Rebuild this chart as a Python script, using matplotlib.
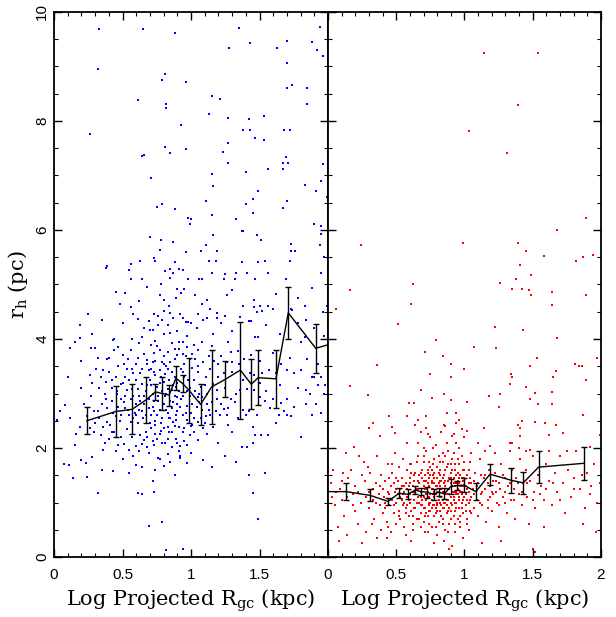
import numpy as np
import matplotlib
matplotlib.use("Agg")
import matplotlib.pyplot as plt
from matplotlib.ticker import MultipleLocator

plt.rcParams['font.family'] = ['Liberation Sans', 'DejaVu Sans']
plt.rcParams['mathtext.fontset'] = 'custom'
plt.rcParams['mathtext.rm'] = 'DejaVu Serif'

# binned means with error bars (log R_gc, r_h, error)
left_bin_x = [0.24, 0.45, 0.57, 0.67, 0.74, 0.79, 0.84, 0.89, 0.94, 0.985, 1.07, 1.15,
              1.25, 1.36, 1.44, 1.49, 1.62, 1.71, 1.91, 2.08]
left_bin_y = [2.50, 2.67, 2.71, 2.88, 3.03, 3.00, 2.97, 3.28, 3.18, 3.06, 2.80, 3.12,
              3.26, 3.43, 3.17, 3.29, 3.27, 4.48, 3.83, 3.95]
left_bin_err = [0.25, 0.47, 0.46, 0.42, 0.14, 0.30, 0.19, 0.22, 0.16, 0.60, 0.38, 0.68,
                0.33, 0.89, 0.46, 0.50, 0.53, 0.48, 0.45, 0.45]

right_bin_x = [-0.05, 0.134, 0.31, 0.44, 0.52, 0.584, 0.64, 0.68, 0.725, 0.774, 0.81, 0.852,
               0.898, 0.944, 0.993, 1.083, 1.187, 1.34, 1.43, 1.543, 1.878]
right_bin_y = [1.20, 1.20, 1.13, 1.02, 1.17, 1.15, 1.23, 1.20, 1.19, 1.15, 1.19, 1.16,
               1.29, 1.31, 1.32, 1.20, 1.52, 1.41, 1.36, 1.65, 1.72]
right_bin_err = [0.10, 0.15, 0.11, 0.07, 0.09, 0.09, 0.08, 0.07, 0.10, 0.10, 0.07, 0.10,
                 0.14, 0.08, 0.13, 0.15, 0.19, 0.23, 0.20, 0.29, 0.30]

left_tick_labels = ['0', '0.5', '1', '1.5']
right_tick_labels = ['0', '0.5', '1', '1.5', '2']
y_tick_labels = ['0', '2', '4', '6', '8', '10']

# individual clusters, left panel (blue)
blue_pts = [
    (0.33, 9.68), (0.65, 9.68), (0.88, 9.61), (1.35, 9.71), (1.94, 9.73), (1.43, 9.43), (1.70, 9.47),
    (1.28, 9.33), (1.63, 9.33), (1.88, 9.44), (1.92, 9.30), (1.96, 9.19), (0.32, 8.96), (1.70, 9.06),
    (0.79, 8.76), (0.81, 8.87), (0.96, 8.71), (1.74, 8.66), (1.70, 8.61), (1.85, 8.61), (0.61, 8.38),
    (1.15, 8.45), (1.21, 8.41), (0.82, 8.32), (0.82, 8.23), (1.13, 8.13), (1.27, 8.06), (1.42, 8.04),
    (1.53, 8.10), (1.85, 8.32), (0.26, 7.77), (1.38, 7.83), (1.43, 7.83), (1.47, 7.69), (1.53, 7.66),
    (1.68, 7.83), (1.72, 7.83), (0.93, 7.92), (1.27, 7.60), (1.23, 7.44), (0.96, 7.48), (0.85, 7.41),
    (0.64, 7.36), (0.66, 7.37), (0.81, 7.52), (1.69, 7.34), (1.67, 7.22), (1.71, 7.22), (1.27, 7.22),
    (1.40, 7.07), (1.56, 7.11), (1.96, 7.21), (1.15, 7.03), (0.71, 6.96), (1.67, 7.11), (1.16, 6.80),
    (1.49, 6.71), (1.83, 6.83), (1.91, 6.71), (1.95, 6.89), (1.99, 6.60), (0.79, 6.48), (0.75, 6.43),
    (0.88, 6.39), (1.11, 6.53), (1.40, 6.48), (1.45, 6.57), (1.45, 6.32), (0.98, 6.22), (1.00, 6.21),
    (0.99, 6.11), (1.15, 6.27), (1.33, 6.21), (1.37, 5.99), (1.38, 5.99), (1.48, 5.90), (1.51, 5.82),
    (1.90, 6.11), (1.95, 6.08), (1.95, 5.92), (1.67, 6.40), (1.70, 6.53), (0.70, 5.87), (0.78, 5.82),
    (0.87, 5.78), (1.07, 5.61), (1.11, 5.73), (1.19, 5.61), (0.96, 5.59), (1.16, 5.91), (1.94, 5.73),
    (1.97, 5.51), (0.38, 5.31), (0.39, 5.34), (0.56, 5.38), (0.55, 5.27), (0.63, 5.43), (0.73, 5.48),
    (0.74, 5.43), (0.77, 5.64), (0.85, 5.29), (0.81, 5.25), (0.88, 5.41), (0.91, 5.29), (0.94, 5.27),
    (1.13, 5.43), (1.18, 5.43), (1.37, 5.42), (1.49, 5.42), (1.54, 5.43), (1.72, 5.43), (1.73, 5.61),
    (1.76, 5.61), (1.73, 5.75), (1.06, 5.11), (1.08, 5.11), (0.98, 5.11), (1.15, 5.21), (1.25, 5.19),
    (1.24, 5.11), (1.33, 5.21), (1.32, 5.11), (1.41, 5.21), (1.47, 5.11), (1.56, 5.21), (1.69, 5.10),
    (1.95, 5.21), (0.56, 5.10), (0.64, 5.10), (0.78, 5.00), (0.85, 5.12), (0.87, 5.22),
    (0.52, 4.84), (0.45, 4.87), (0.56, 4.59), (0.61, 4.36), (0.77, 4.81), (0.80, 4.71), (0.89, 4.76),
    (0.95, 4.92), (0.90, 4.92), (1.03, 4.81), (1.12, 4.71), (1.26, 4.81), (1.12, 4.39), (1.19, 4.39),
    (1.25, 4.43), (1.19, 4.48), (1.05, 4.45), (1.46, 4.71), (1.50, 4.61), (1.46, 4.58), (1.56, 4.60),
    (1.52, 4.51), (1.48, 4.49), (1.42, 4.33), (1.44, 4.33), (1.47, 4.04), (1.49, 4.04), (1.62, 4.82),
    (1.83, 4.61), (1.88, 4.94), (1.99, 4.61), (1.96, 4.49), (1.84, 4.34), (1.97, 4.06), (1.83, 4.04),
    (1.74, 4.54), (1.73, 4.55), (0.19, 4.25), (0.19, 4.01), (0.12, 3.83), (0.28, 4.09), (0.30, 3.84),
    (0.27, 3.83), (0.44, 4.00), (0.43, 3.98), (0.57, 4.00), (0.69, 4.33), (0.73, 4.46), (0.76, 4.43),
    (0.70, 4.17), (0.72, 4.17), (0.76, 4.25), (0.80, 4.51), (0.85, 4.48), (0.87, 4.39), (0.92, 4.45),
    (0.94, 4.38), (0.96, 4.32), (0.98, 4.32), (1.00, 4.30), (0.80, 4.10), (0.85, 4.11), (0.91, 3.95),
    (0.94, 3.95), (1.02, 3.89), (0.74, 3.97), (0.71, 3.89), (0.73, 3.75), (0.77, 3.79), (0.80, 3.69),
    (0.83, 3.77), (0.88, 3.82), (0.91, 3.82), (0.94, 3.73), (0.96, 3.69), (0.99, 3.63), (1.01, 3.73),
    (1.03, 3.63), (0.66, 3.73), (0.61, 3.66), (0.64, 4.04), (0.54, 3.63), (0.51, 3.55), (0.44, 3.79),
    (0.40, 3.66), (0.39, 3.63), (0.47, 3.50), (0.36, 3.43), (0.34, 3.31), (0.26, 3.34), (0.38, 3.22),
    (0.42, 3.25), (0.49, 3.17), (0.53, 3.06), (0.58, 3.38), (0.63, 3.38), (0.69, 3.44), (0.72, 3.57),
    (0.74, 3.34), (0.77, 3.44), (0.82, 3.50), (0.85, 3.57), (0.88, 3.63), (0.95, 3.54), (1.01, 3.47),
    (1.05, 3.50), (1.09, 3.57), (1.13, 3.69), (1.17, 3.60), (1.22, 3.69), (1.26, 3.57), (1.29, 3.76),
    (1.24, 3.38), (1.30, 3.57), (1.35, 3.54), (1.39, 3.63), (1.43, 3.38), (1.46, 3.34), (1.52, 3.38),
    (1.57, 3.44), (1.62, 3.38), (1.66, 3.54), (1.70, 3.44), (1.75, 3.38), (1.80, 3.44), (1.85, 3.63),
    (1.90, 3.31), (1.95, 3.31), (1.98, 3.15), (1.84, 3.06), (1.87, 2.99), (1.93, 3.15), (1.97, 2.99),
    (1.91, 2.80), (1.84, 2.80), (1.88, 2.61), (1.70, 2.90), (1.66, 2.83), (1.68, 2.68), (1.70, 2.61),
    (1.73, 2.58), (1.64, 2.61), (1.58, 2.74), (1.54, 2.87), (1.50, 2.93), (1.46, 3.06), (1.41, 3.09),
    (1.36, 3.06), (1.33, 2.99), (1.29, 2.90), (1.27, 2.74), (1.22, 2.80), (1.18, 2.68), (1.14, 2.61),
    (1.11, 2.58), (1.07, 2.55), (1.05, 2.48), (1.01, 2.42), (0.97, 2.52), (0.94, 2.61), (0.90, 2.68),
    (0.86, 2.74), (0.83, 2.64), (0.79, 2.55), (0.75, 2.61), (0.73, 2.68), (0.69, 2.74), (0.66, 2.80),
    (0.63, 2.87), (0.60, 2.80), (0.56, 2.90), (0.52, 2.96), (0.49, 2.90), (0.46, 2.99), (0.42, 2.87),
    (0.39, 2.74), (0.35, 2.80), (0.32, 2.68), (0.29, 2.68), (0.24, 2.58), (0.19, 2.39), (0.16, 2.26),
    (0.02, 2.52), (0.08, 2.79), (0.04, 2.68), (0.26, 2.36), (0.29, 2.29), (0.34, 2.23), (0.36, 2.39),
    (0.40, 2.17), (0.44, 2.29), (0.49, 2.20), (0.51, 2.07), (0.55, 1.97), (0.60, 2.04), (0.63, 2.23),
    (0.67, 2.29), (0.71, 2.36), (0.74, 2.42), (0.78, 2.32), (0.83, 2.39), (0.86, 2.29), (0.89, 2.17),
    (0.92, 2.04), (0.91, 1.94), (0.95, 2.13), (0.99, 2.23), (1.02, 2.29), (1.09, 2.36), (1.16, 2.39),
    (1.27, 2.42), (1.34, 2.55), (1.40, 2.61), (1.42, 2.68), (1.45, 2.39), (1.47, 2.23), (1.51, 2.23),
    (1.37, 2.01), (1.41, 2.01), (1.33, 1.75), (1.42, 1.50), (1.45, 1.18), (1.54, 1.54), (1.49, 0.70),
    (1.56, 2.23), (0.07, 1.71), (0.11, 1.69), (0.14, 1.45), (0.20, 1.78), (0.23, 1.72), (0.24, 1.46),
    (0.28, 1.83), (0.32, 1.18), (0.36, 1.96), (0.43, 1.58), (0.58, 1.85), (0.60, 1.69), (0.64, 1.66),
    (0.61, 1.18), (0.64, 1.16), (0.73, 1.20), (0.72, 1.40), (0.76, 1.82), (0.80, 1.67), (0.77, 1.80),
    (0.83, 1.89), (0.86, 2.01), (0.92, 1.85), (0.92, 1.82), (0.97, 1.72), (1.09, 1.78), (0.69, 0.57),
    (0.79, 0.64), (0.82, 0.13), (0.94, 0.14), (1.24, 2.71), (1.21, 2.61), (1.12, 2.80), (1.08, 2.93),
    (1.05, 2.93), (1.01, 2.80), (0.97, 2.77), (0.94, 2.96), (0.90, 2.93), (0.86, 3.06), (0.83, 3.09),
    (0.80, 3.22), (0.75, 3.12), (0.72, 2.99), (0.68, 3.15), (0.64, 3.18), (0.61, 3.09), (0.57, 3.09),
    (0.55, 3.25), (0.85, 2.87), (0.89, 3.12), (1.02, 3.25), (1.11, 3.31), (1.16, 3.18), (1.19, 3.06),
    (1.07, 3.12), (0.80, 2.80), (0.76, 2.87), (0.73, 2.87), (0.71, 2.61), (0.67, 2.61), (0.64, 2.68),
    (0.60, 2.61), (0.58, 2.55), (0.56, 2.48), (0.52, 2.74), (0.49, 2.61), (0.45, 2.58), (0.41, 2.42),
    (0.39, 2.48), (0.83, 2.17), (0.79, 2.10), (0.75, 2.17), (0.72, 2.13), (0.68, 2.01), (0.64, 2.07),
    (0.80, 2.36), (0.87, 2.48), (0.91, 2.39), (0.95, 2.36), (0.85, 2.55), (0.89, 2.52), (0.78, 2.45),
    (0.74, 2.26), (0.68, 2.20), (0.78, 3.30), (0.82, 3.00), (0.86, 3.40), (0.90, 3.20), (0.93, 3.45),
    (0.76, 2.95), (0.70, 3.25), (0.88, 2.95), (0.84, 3.25), (0.80, 3.55), (0.95, 3.30), (0.97, 3.05),
    (0.74, 3.60), (0.66, 2.95), (0.62, 2.70), (0.90, 2.80), (0.82, 2.70), (0.79, 3.05), (0.87, 3.15),
    (0.92, 2.75), (1.00, 2.65), (1.04, 2.75), (1.06, 3.00), (1.08, 2.70), (1.12, 3.00), (1.10, 2.45),
    (1.15, 2.85), (0.99, 3.10), (0.71, 3.45), (0.68, 3.55), (0.60, 3.55), (0.58, 2.95), (0.55, 2.60),
    (0.50, 3.20), (0.47, 2.75), (0.53, 3.45), (0.45, 3.30), (0.42, 3.10), (0.37, 3.00), (0.33, 3.10),
    (0.62, 4.70), (0.68, 4.95), (0.84, 4.60), (0.93, 4.85), (1.08, 4.65), (1.30, 4.90), (1.38, 4.60),
    (1.60, 4.55), (1.78, 4.75), (0.48, 4.65), (0.50, 4.30), (0.58, 4.45), (0.66, 4.20), (0.79, 4.35),
    (0.83, 4.25), (0.90, 4.15), (0.97, 4.05), (1.04, 4.20), (1.09, 4.35), (1.16, 4.10), (1.22, 4.30),
    (1.30, 4.15), (1.36, 4.40), (1.55, 4.25), (1.65, 4.10), (1.78, 4.30), (1.90, 4.20), (0.35, 4.35),
    (0.25, 4.45), (1.14, 4.55), (0.32, 3.65), (0.47, 3.85), (0.50, 3.70), (0.56, 3.80), (0.62, 3.92),
    (0.68, 3.62), (0.75, 3.88), (0.79, 3.58), (0.86, 3.92), (0.90, 3.70), (0.97, 3.85), (1.05, 3.80),
    (1.08, 3.95), (1.15, 3.88), (1.20, 3.55), (1.27, 3.95), (1.34, 3.78), (1.44, 3.70), (1.50, 3.60),
    (1.60, 3.75), (1.72, 3.66), (1.80, 3.95), (1.93, 3.55), (0.20, 3.60), (0.15, 3.95), (0.20, 3.10),
    (0.28, 3.20), (0.31, 3.45), (0.40, 3.40), (0.46, 3.05), (0.52, 3.30), (0.57, 3.45), (0.60, 3.25),
    (0.64, 3.45), (0.67, 3.05), (0.71, 3.15), (0.73, 3.40), (0.77, 3.20), (0.81, 3.35), (0.83, 3.45),
    (0.88, 3.30), (0.91, 3.05), (0.94, 3.40), (0.98, 3.25), (1.03, 3.05), (1.05, 3.40), (1.10, 3.15),
    (1.14, 3.45), (1.20, 3.30), (1.25, 3.10), (1.30, 3.40), (1.38, 3.25), (1.50, 3.20), (1.55, 3.05),
    (1.65, 3.15), (1.78, 3.10), (1.88, 3.30), (0.10, 3.30), (0.12, 2.55), (0.22, 2.80), (0.27, 2.95),
    (0.33, 2.55), (0.38, 2.90), (0.43, 2.65), (0.48, 2.50), (0.51, 2.85), (0.54, 2.70), (0.59, 2.65),
    (0.62, 2.95), (0.65, 2.55), (0.69, 2.90), (0.72, 2.75), (0.74, 2.50), (0.77, 2.70), (0.81, 2.95),
    (0.84, 2.55), (0.87, 2.85), (0.89, 2.60), (0.93, 2.90), (0.96, 2.65), (0.99, 2.95), (1.02, 2.55),
    (1.06, 2.85), (1.13, 2.70), (1.19, 2.90), (1.26, 2.60), (1.32, 2.85), (1.38, 2.70), (1.48, 2.60),
    (1.60, 2.90), (1.75, 2.75), (1.95, 2.65), (0.15, 2.05), (0.30, 2.45), (0.37, 2.10), (0.42, 2.30),
    (0.47, 2.05), (0.53, 2.35), (0.57, 2.20), (0.61, 2.45), (0.66, 2.15), (0.70, 2.45), (0.73, 2.05),
    (0.77, 2.25), (0.81, 2.10), (0.84, 2.30), (0.88, 2.40), (0.90, 2.10), (0.94, 2.30), (0.97, 2.05),
    (1.00, 2.40), (1.05, 2.15), (1.12, 2.25), (1.20, 2.10), (1.30, 2.30), (1.45, 2.10), (1.62, 2.45),
    (1.80, 2.20), (0.35, 1.60), (0.50, 1.80), (0.55, 1.55), (0.69, 1.90), (0.74, 1.60), (0.85, 1.75),
    (0.88, 1.50), (1.00, 1.90), (1.15, 1.65), (1.25, 1.85), (0.45, 1.95), (0.62, 1.95),
]

# individual clusters, right panel (red)
red_pts = [
    (1.14, 9.25), (1.54, 9.25), (1.39, 8.30), (1.03, 7.82), (1.31, 7.41), (1.89, 6.22), (1.68, 6.00),
    (0.24, 5.73), (0.99, 5.76), (1.39, 5.76), (1.45, 5.61), (1.58, 5.52), (1.94, 5.54), (1.87, 5.50),
    (1.82, 5.43), (1.41, 5.36), (1.49, 5.17), (1.38, 5.11), (0.62, 5.01), (1.26, 5.03), (1.35, 4.92),
    (1.42, 4.92), (1.47, 4.90), (1.49, 4.81), (1.89, 4.81), (0.16, 4.89), (1.64, 4.87), (1.64, 4.62),
    (0.06, 4.55), (0.61, 4.64), (0.51, 4.28), (1.22, 4.22), (1.43, 4.16), (1.68, 4.01), (0.79, 3.99),
    (1.07, 3.85), (1.23, 3.83), (0.71, 3.76), (0.84, 3.69), (1.97, 3.66), (1.53, 3.66), (1.81, 3.55),
    (1.84, 3.50), (1.86, 3.50), (0.36, 3.52), (0.90, 3.55), (1.00, 3.45), (1.48, 3.50), (1.34, 3.36),
    (1.35, 3.31), (0.75, 3.36), (0.90, 3.31), (1.65, 3.31), (1.67, 3.41), (1.89, 3.25), (1.33, 3.17),
    (0.16, 3.13), (0.85, 2.99), (0.76, 2.91), (0.29, 2.97), (1.26, 2.99), (1.45, 3.12), (1.52, 3.01),
    (1.64, 3.03), (0.68, 3.06), (1.02, 2.85), (0.90, 2.88), (1.18, 2.96), (1.25, 2.75), (0.59, 2.82),
    (0.63, 2.83), (1.48, 2.90), (1.54, 2.80), (1.64, 2.80), (0.45, 2.58), (0.58, 2.59), (0.72, 2.59),
    (0.87, 2.64), (0.94, 2.64), (0.96, 2.52), (0.94, 2.45), (0.33, 2.45), (0.30, 2.36), (0.47, 2.39),
    (0.49, 2.28), (0.66, 2.52), (0.64, 2.42), (0.72, 2.36), (0.73, 2.26), (0.85, 2.42), (0.91, 2.22),
    (1.02, 2.31), (1.14, 2.36), (1.39, 2.43), (1.42, 2.50), (1.41, 2.36), (1.52, 2.48), (1.59, 2.46),
    (1.67, 2.43), (1.72, 2.27), (1.87, 2.61), (1.99, 2.24), (0.38, 2.22), (0.58, 2.10), (0.19, 2.01),
    (1.33, 2.10), (1.35, 2.10), (1.41, 2.22), (1.10, 2.10), (1.19, 2.03), (1.92, 2.02), (1.62, 2.24),
    (1.48, 1.96),
    (0.02, 1.35), (0.05, 0.95), (0.07, 0.55), (0.09, 1.25), (0.10, 1.05), (0.12, 0.75), (0.15, 1.45),
    (0.17, 1.60), (0.18, 1.15), (0.20, 1.30), (0.20, 0.85), (0.22, 0.60), (0.24, 1.00), (0.26, 1.75),
    (0.27, 1.40), (0.28, 0.45), (0.30, 1.20), (0.30, 0.90), (0.31, 1.55), (0.33, 1.05), (0.34, 0.70),
    (0.35, 1.35), (0.36, 1.85), (0.36, 0.35), (0.37, 1.15), (0.38, 0.95), (0.39, 0.50), (0.39, 1.50),
    (0.40, 1.25), (0.40, 0.80), (0.04, 1.60), (0.08, 0.30), (0.13, 1.90), (0.14, 0.40), (0.23, 1.85),
    (0.25, 0.25), (0.29, 1.65), (0.32, 0.60), (0.06, 1.20), (0.11, 1.55),
    (0.41, 1.10), (0.42, 0.90), (0.42, 1.40), (0.43, 0.65), (0.44, 1.20), (0.44, 1.70), (0.45, 0.95),
    (0.46, 1.30), (0.46, 0.45), (0.47, 1.05), (0.47, 1.55), (0.48, 0.80), (0.49, 1.20), (0.49, 1.90),
    (0.50, 1.00), (0.50, 0.60), (0.51, 1.40), (0.51, 1.15), (0.52, 0.85), (0.52, 1.65), (0.53, 1.25),
    (0.53, 0.70), (0.54, 1.05), (0.54, 1.45), (0.55, 0.95), (0.55, 1.80), (0.56, 1.20), (0.56, 0.55),
    (0.57, 1.35), (0.57, 0.90), (0.58, 1.10), (0.58, 1.60), (0.59, 0.75), (0.59, 1.30), (0.60, 1.00),
    (0.60, 1.45), (0.61, 0.85), (0.61, 1.70), (0.62, 1.20), (0.62, 0.60), (0.63, 1.05), (0.63, 1.40),
    (0.64, 0.90), (0.64, 1.55), (0.65, 1.25), (0.65, 0.70), (0.66, 1.10), (0.66, 1.85), (0.45, 1.45),
    (0.48, 1.35), (0.50, 1.25), (0.53, 1.10), (0.56, 1.00), (0.58, 1.25), (0.60, 1.15), (0.62, 1.30),
    (0.64, 1.15), (0.43, 0.35), (0.57, 0.40), (0.61, 0.30),
    (0.67, 1.00), (0.67, 1.35), (0.68, 0.80), (0.68, 1.20), (0.68, 1.55), (0.69, 0.95), (0.69, 1.45),
    (0.70, 1.10), (0.70, 0.65), (0.70, 1.75), (0.71, 1.25), (0.71, 0.90), (0.72, 1.40), (0.72, 1.05),
    (0.72, 1.95), (0.73, 0.75), (0.73, 1.20), (0.73, 1.60), (0.74, 1.00), (0.74, 1.30), (0.75, 0.85),
    (0.75, 1.50), (0.75, 1.15), (0.76, 0.55), (0.76, 1.40), (0.76, 1.05), (0.77, 1.25), (0.77, 0.95),
    (0.77, 1.70), (0.78, 1.10), (0.78, 0.75), (0.78, 1.55), (0.79, 1.30), (0.79, 0.90), (0.79, 2.05),
    (0.80, 1.00), (0.80, 1.45), (0.80, 1.20), (0.81, 0.65), (0.81, 1.35), (0.81, 1.85), (0.82, 1.10),
    (0.82, 0.85), (0.82, 1.60), (0.83, 1.25), (0.83, 0.95), (0.83, 1.40), (0.84, 1.05), (0.84, 0.70),
    (0.84, 1.75), (0.85, 1.20), (0.85, 1.50), (0.85, 0.90), (0.86, 1.30), (0.86, 1.00), (0.86, 0.50),
    (0.87, 1.15), (0.87, 1.65), (0.87, 0.80), (0.88, 1.40), (0.88, 1.05), (0.88, 1.95), (0.89, 1.25),
    (0.89, 0.90), (0.89, 0.60), (0.90, 1.10), (0.90, 1.55), (0.90, 1.35), (0.91, 0.95), (0.91, 1.20),
    (0.91, 1.80), (0.92, 1.45), (0.92, 0.75), (0.92, 1.05), (0.93, 1.30), (0.93, 1.60), (0.93, 0.85),
    (0.94, 1.15), (0.94, 2.10), (0.94, 1.00), (0.95, 1.40), (0.95, 0.70), (0.95, 1.25), (0.96, 1.70),
    (0.96, 0.90), (0.96, 1.10), (0.97, 1.50), (0.97, 1.30), (0.97, 0.55), (0.98, 1.00), (0.98, 1.20),
    (0.98, 1.85), (0.99, 0.80), (0.99, 1.40), (1.00, 1.10), (1.00, 1.60), (1.01, 0.95), (1.01, 1.30),
    (1.02, 0.70), (1.02, 1.50), (1.03, 1.20), (1.03, 1.00), (1.04, 1.75), (1.04, 0.85), (1.05, 1.35),
    (1.05, 1.10), (0.72, 1.15), (0.74, 0.95), (0.76, 1.25), (0.78, 1.35), (0.80, 0.85), (0.82, 1.30),
    (0.84, 1.45), (0.86, 1.15), (0.88, 1.25), (0.90, 0.85), (0.92, 1.35), (0.94, 1.20), (0.96, 1.35),
    (0.98, 1.45), (0.70, 1.30), (0.74, 1.45), (0.78, 0.95), (0.82, 1.00), (0.86, 1.40), (0.90, 1.00),
    (0.94, 1.50), (0.98, 1.15), (0.76, 1.60), (0.80, 1.65), (0.84, 1.90), (0.88, 1.70), (0.92, 1.90),
    (0.96, 2.00), (0.70, 2.00), (0.75, 2.20), (0.83, 2.30), (0.87, 2.10), (1.00, 2.20), (0.66, 2.10),
    (0.73, 0.45), (0.80, 0.40), (0.85, 0.30), (0.93, 0.45), (0.99, 0.35), (1.03, 0.50), (0.89, 0.15),
    (0.91, 0.20), (0.78, 0.25),
    (1.06, 1.25), (1.07, 0.90), (1.08, 1.55), (1.09, 1.05), (1.10, 0.75), (1.10, 1.35), (1.11, 1.80),
    (1.12, 1.15), (1.13, 0.95), (1.14, 1.45), (1.15, 1.25), (1.16, 0.65), (1.17, 1.05), (1.18, 1.60),
    (1.19, 1.30), (1.20, 0.85), (1.21, 1.15), (1.22, 1.90), (1.23, 1.40), (1.24, 1.00), (1.25, 0.55),
    (1.26, 1.25), (1.27, 1.70), (1.28, 1.10), (1.30, 1.45), (1.31, 0.80), (1.32, 1.30), (1.33, 1.95),
    (1.34, 1.05), (1.35, 1.60), (1.36, 1.25), (1.37, 0.70), (1.38, 1.45), (1.40, 1.15), (1.41, 1.80),
    (1.42, 0.95), (1.43, 1.35), (1.45, 1.60), (1.46, 1.10), (1.47, 0.60), (1.48, 1.40), (1.50, 1.85),
    (1.51, 1.20), (1.52, 0.90), (1.54, 1.50), (1.56, 1.30), (1.58, 1.05), (1.60, 1.70), (1.62, 1.40),
    (1.64, 0.95), (1.66, 1.55), (1.68, 1.20), (1.70, 1.85), (1.72, 1.35), (1.74, 0.80), (1.76, 1.60),
    (1.78, 1.10), (1.80, 1.45), (1.82, 1.95), (1.85, 1.25), (1.88, 0.90), (1.90, 1.55), (1.92, 1.15),
    (1.95, 1.70), (1.97, 1.00), (1.99, 1.35), (1.50, 0.15), (1.52, 0.10), (1.13, 0.25), (1.27, 0.30),
    (1.87, 0.60), (1.96, 0.45), (1.20, 1.20), (1.25, 1.35), (1.30, 1.00), (1.35, 1.40), (1.07, 1.40),
    (1.12, 1.50), (1.17, 1.35), (1.22, 1.55), (1.15, 1.95), (1.45, 1.95), (1.62, 1.95), (1.40, 2.00),
    (1.58, 0.55), (1.75, 1.95),
    (0.55, 1.15), (0.58, 0.95), (0.60, 1.35), (0.62, 0.75), (0.63, 1.50), (0.65, 1.00), (0.66, 1.40),
    (0.67, 0.70), (0.68, 1.10), (0.69, 1.60), (0.70, 0.90), (0.71, 1.50), (0.72, 0.80), (0.73, 1.35),
    (0.74, 1.10), (0.75, 1.65), (0.76, 0.90), (0.77, 1.15), (0.78, 1.45), (0.79, 0.80), (0.80, 1.30),
    (0.81, 1.05), (0.82, 1.50), (0.83, 0.75), (0.84, 1.20), (0.85, 1.00), (0.86, 1.60), (0.87, 0.95),
    (0.88, 1.15), (0.89, 1.45), (0.90, 0.70), (0.91, 1.30), (0.92, 1.10), (0.93, 1.70), (0.94, 0.90),
    (0.95, 1.15), (0.96, 1.45), (0.97, 0.75), (0.98, 1.30), (0.99, 1.05), (1.00, 1.45), (1.01, 0.85),
    (1.02, 1.25), (1.03, 1.60), (1.04, 1.05), (1.05, 0.80), (0.56, 1.30), (0.59, 1.05), (0.61, 1.55),
    (0.63, 0.90), (0.66, 1.25), (0.68, 0.95), (0.70, 1.40), (0.72, 1.25), (0.74, 0.85), (0.76, 1.35),
    (0.78, 1.20), (0.80, 0.95), (0.82, 1.40), (0.84, 0.90), (0.86, 1.25), (0.88, 0.85), (0.90, 1.45),
    (0.92, 1.20), (0.94, 1.35), (0.96, 1.05), (0.98, 0.90), (1.00, 1.30), (1.02, 1.05), (1.04, 1.45),
    (0.57, 0.80), (0.60, 1.70), (0.64, 1.20), (0.67, 1.50), (0.69, 1.05), (0.71, 0.75), (0.73, 1.55),
    (0.75, 1.00), (0.77, 1.50), (0.79, 1.15), (0.81, 1.55), (0.83, 1.10), (0.85, 1.35), (0.87, 1.05),
    (0.89, 1.15), (0.91, 1.60), (0.93, 1.00), (0.95, 1.55), (0.97, 1.20), (0.99, 1.60), (1.01, 1.15),
    (1.03, 1.35), (0.65, 1.75), (0.70, 1.85), (0.74, 1.75), (0.78, 1.80), (0.82, 1.75), (0.86, 1.85),
    (0.90, 1.70), (0.95, 1.80), (1.00, 1.75), (1.05, 1.90), (0.68, 2.30), (0.77, 2.00), (0.86, 2.40),
    (0.92, 2.25), (0.98, 2.35), (0.62, 0.50), (0.68, 0.55), (0.74, 0.60), (0.79, 0.55), (0.84, 0.60),
    (0.88, 0.45), (0.93, 0.60), (0.97, 0.65), (1.02, 0.60), (0.71, 0.45), (0.45, 1.15), (0.48, 0.95),
    (0.50, 1.45), (0.52, 0.75), (0.54, 1.30), (0.47, 1.70), (0.42, 1.00), (0.44, 0.55), (0.38, 1.30),
    (0.35, 1.00), (0.33, 1.25), (0.28, 1.10), (0.25, 1.50), (0.22, 1.20), (0.18, 0.95), (0.14, 1.10),
    (0.10, 1.40), (0.03, 1.10), (1.07, 1.15), (1.09, 1.30), (1.11, 1.00), (1.13, 1.20), (1.15, 1.50),
    (1.17, 0.90), (1.19, 1.10), (1.21, 1.40), (1.23, 1.20), (1.25, 0.95), (1.28, 1.50), (1.30, 1.20),
    (1.33, 1.35), (1.36, 1.05), (1.39, 1.35), (1.42, 1.20), (1.46, 1.35), (1.50, 1.05), (1.55, 1.15),
    (1.60, 1.25), (1.65, 1.35), (1.70, 1.05), (1.80, 1.25), (1.86, 1.50), (1.93, 1.30),
]

blue = np.array(blue_pts)
red = np.array(red_pts)

fig = plt.figure(figsize=(6.16, 6.17), dpi=100)
ax1 = fig.add_axes([0.0877, 0.0972, 0.4448, 0.8834])
ax2 = fig.add_axes([0.5325, 0.0972, 0.4431, 0.8834])

label_font = dict(family=['DejaVu Serif'], fontsize=15)

for ax, pts, col, bx, by, be in [
    (ax1, blue, '#0000ff', left_bin_x, left_bin_y, left_bin_err),
    (ax2, red, '#ff0000', right_bin_x, right_bin_y, right_bin_err),
]:
    ax.scatter(pts[:, 0], pts[:, 1], s=2.0, marker='s', color=col, linewidths=0, zorder=1)
    ax.errorbar(bx, by, yerr=be, color='black', lw=1, elinewidth=1, capsize=2.5,
                capthick=1, zorder=3)
    ax.set_xlim(0, 2)
    ax.set_ylim(0, 10)
    ax.xaxis.set_minor_locator(MultipleLocator(0.1))
    ax.yaxis.set_minor_locator(MultipleLocator(0.5))
    ax.tick_params(which='both', direction='in', top=True, right=True, labelsize=11)
    ax.tick_params(axis='x', which='major', pad=8)
    ax.tick_params(which='major', length=6, width=1)
    ax.tick_params(which='minor', length=3.2, width=0.8)
    for sp in ax.spines.values():
        sp.set_linewidth(1.3)
    ax.set_xlabel(r'Log Projected R$_{\rm gc}$ (kpc)', labelpad=4, **label_font)
    ax.set_yticks([0, 2, 4, 6, 8, 10])

ax1.set_xticks([0, 0.5, 1, 1.5])
ax1.set_xticklabels(left_tick_labels)
ax2.set_xticks([0, 0.5, 1, 1.5, 2])
ax2.set_xticklabels(right_tick_labels)
ax1.set_yticklabels(y_tick_labels, rotation=90, va='center')
ax1.set_ylabel(r'r$_{\rm h}$ (pc)', labelpad=4, **label_font)
ax2.tick_params(labelleft=False)

fig.savefig('out.png', dpi=100)
